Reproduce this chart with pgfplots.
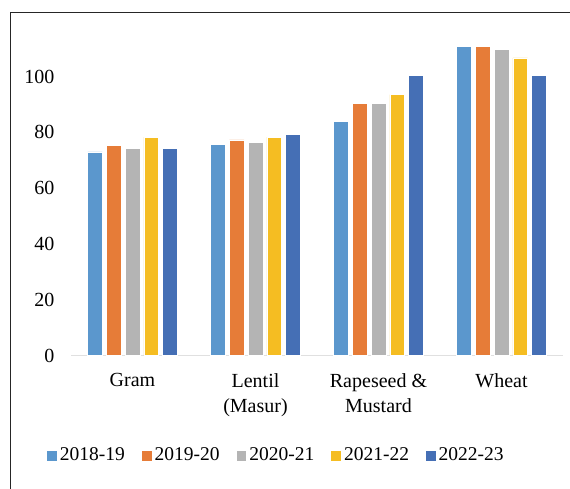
\documentclass[border=0pt]{standalone}
\usepackage{pgfplots}
\pgfplotsset{compat=1.18}
\usepackage{fontspec}
\setmainfont{Liberation Serif}
\definecolor{cA}{HTML}{5B97CD}
\definecolor{cB}{HTML}{E67C38}
\definecolor{cC}{HTML}{B4B4B4}
\definecolor{cD}{HTML}{F5BD22}
\definecolor{cE}{HTML}{456FB5}
\begin{document}
\fontsize{19.5}{25}\selectfont
\begin{tikzpicture}[x=1pt,y=1pt]
\useasboundingbox (0,0) rectangle (570,489);
\draw[line width=1.4pt, black!85] (10.5,-20) -- (10.5,476.5) -- (600,476.5);
\begin{axis}[
  at={(71pt,133.5pt)}, anchor=south west,
  scale only axis, width=492pt, height=334.8pt,
  ybar=4pt, bar width=14.8pt,
  xmin=-0.5, xmax=3.5, ymin=0, ymax=120,
  xtick={0,1,2,3},
  xticklabels={Gram, Lentil\\(Masur), Rapeseed \&\\Mustard, Wheat},
  xticklabel style={align=center, font=\fontsize{20}{25}\selectfont, yshift=-11pt},
  ytick={0,20,40,60,80,100},
  yticklabel style={font=\fontsize{20}{24}\selectfont, xshift=-10pt},
  /pgf/number format/assume math mode=true,
  axis x line*=bottom, axis y line*=left,
  x axis line style={draw=black!12, line width=1.2pt},
  y axis line style={draw=none},
  major tick length=0pt,
  tick style={draw=none},
  legend columns=5,
  legend style={draw=none, fill=none, at={(0.4187,-0.30)}, anchor=center,
    font=\fontsize{19.5}{24}\selectfont, nodes={inner xsep=3pt, inner ysep=2pt},
    /tikz/every even column/.append style={column sep=14pt}},
  legend image code/.code={\fill[#1,draw=none] (0pt,-4.85pt) rectangle (9.7pt,4.85pt);},
  every axis plot/.append style={draw=white, line width=0.6pt},
]
\addplot[fill=cA] coordinates {(0,73.0) (1,75.6) (2,84.0) (3,110.8)};
\addplot[fill=cB] coordinates {(0,75.2) (1,77.3) (2,90.3) (3,110.8)};
\addplot[fill=cC] coordinates {(0,74.2) (1,76.4) (2,90.3) (3,109.6)};
\addplot[fill=cD] coordinates {(0,78.3) (1,78.3) (2,93.5) (3,106.7)};
\addplot[fill=cE] coordinates {(0,74.2) (1,79.2) (2,100.4) (3,100.4)};
\legend{2018-19,2019-20,2020-21,2021-22,2022-23}
\end{axis}
\end{tikzpicture}
\end{document}
